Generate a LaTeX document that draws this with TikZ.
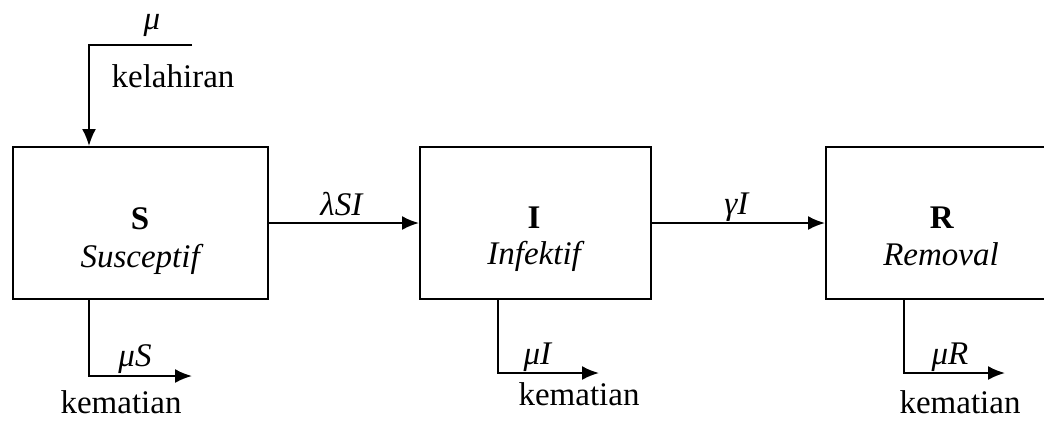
\documentclass[tikz,border=0pt]{standalone}
\usepackage{fontspec}
\setmainfont{Liberation Serif}
\usetikzlibrary{arrows.meta}
\begin{document}
\begin{tikzpicture}[x=0.5pt,y=-0.5pt,
  every node/.style={font=\fontsize{16.5}{19}\selectfont, inner sep=0pt},
  box/.style={draw, line width=1pt, minimum height=76pt},
  arr/.style={line width=1pt, -{Latex[length=8.5pt,width=7pt]}},
  txt/.style={anchor=base}]
\useasboundingbox (0,0) rectangle (1044,420);
\clip (0,0) rectangle (1044,420);

% compartments
\node[box, minimum width=127.5pt] (S) at (140.5,223) {};
\node[box, minimum width=115.5pt] (I) at (535.5,223) {};
\node[box, minimum width=116pt]   (R) at (942,223) {};

\node[txt] (sA) at (140,229) {\textbf{S}};
\node[txt] (sB) at (142,267) {\textit{Susceptif}};
\node[txt] (iA) at (534,228) {\textbf{I}};
\node[txt] (iB) at (536,264) {\textit{Infektif}};
\node[txt] (rA) at (942,228) {\textbf{R}};
\node[txt] (rB) at (941,265) {\textit{Removal}};

% births
\coordinate (b0) at (192,45);
\coordinate (b1) at (89,45);
\draw[arr] (b0) -- (b1) -- (b1 |- S.north);
\node[txt] (mu) at (152,29) {\textit{μ}};
\node[txt] (lahir) at (173,87) {kelahiran};

% transitions
\draw[arr] (S.east) -- (I.west);
\node[txt] (lsi) at (342,215) {\textit{λSI}};
\draw[arr] (I.east) -- (R.west);
\node[txt] (gi) at (737,214) {\textit{γI}};

% deaths
\coordinate (xS) at (89,376);  \coordinate (dS) at (192,376);
\coordinate (xI) at (498,373); \coordinate (dI) at (599,373);
\coordinate (xR) at (904,373); \coordinate (dR) at (1005,373);
\draw[arr] (S.south -| xS) -- (xS) -- (dS);
\draw[arr] (I.south -| xI) -- (xI) -- (dI);
\draw[arr] (R.south -| xR) -- (xR) -- (dR);
\node[txt] (mS) at (135,366) {\textit{μS}};
\node[txt] (mI) at (538,364) {\textit{μI}};
\node[txt] (mR) at (950,364) {\textit{μR}};
\node[txt] (kS) at (121,413) {kematian};
\node[txt] (kI) at (579,405) {kematian};
\node[txt] (kR) at (960,413) {kematian};
\end{tikzpicture}
\end{document}
